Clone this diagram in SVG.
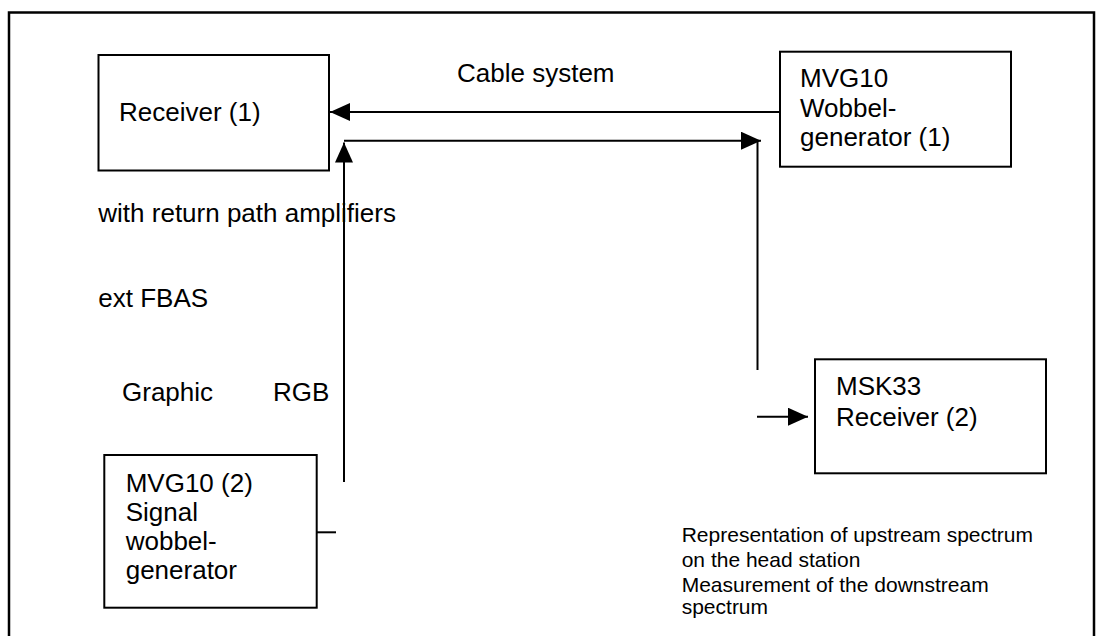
<svg xmlns="http://www.w3.org/2000/svg" width="1096" height="636" viewBox="0 0 1096 636">
<style>
  .box { fill: #ffffff; stroke: #000000; stroke-width: 2; }
  .ln { fill: none; stroke: #000000; stroke-width: 2; }
  .t { font-family: "Liberation Sans", Arial, sans-serif; font-size: 26px; fill: #000000; }
  .s { font-family: "Liberation Sans", Arial, sans-serif; font-size: 21px; fill: #000000; }
</style>
<defs>
  <marker id="arr" markerUnits="userSpaceOnUse" markerWidth="20" markerHeight="18" refX="20" refY="9" orient="auto">
    <path d="M0,0 L20,9 L0,18 z" fill="#000000"/>
  </marker>
</defs>
<rect x="0" y="0" width="1096" height="636" fill="#ffffff"/>
<path d="M9,636 V12.5 H1094 V636" fill="none" stroke="#000000" stroke-width="2.5"/>

<g id="connectors">
  <path class="ln" d="M780,112 H330" marker-end="url(#arr)"/>
  <path class="ln" d="M344,482 V142.5" marker-end="url(#arr)"/>
  <path class="ln" d="M344,140.7 H761" marker-end="url(#arr)"/>
  <path class="ln" d="M757.5,140 V370"/>
  <path class="ln" d="M757,416.7 H808" marker-end="url(#arr)"/>
  <path class="ln" d="M317,532.3 H336"/>
</g>

<g id="receiver1">
  <rect class="box" x="98.5" y="55" width="230.5" height="115.5"/>
  <text class="t" x="119" y="121">Receiver (1)</text>
</g>

<g id="mvg10-1">
  <rect class="box" x="780" y="51.7" width="231" height="115"/>
  <text class="t" x="800" y="87.3">MVG10</text>
  <text class="t" x="800" y="116.7">Wobbel-</text>
  <text class="t" x="800" y="146">generator (1)</text>
</g>

<g id="msk33">
  <rect class="box" x="815" y="359.3" width="231" height="114"/>
  <text class="t" x="836" y="395">MSK33</text>
  <text class="t" x="836" y="426">Receiver (2)</text>
</g>

<g id="mvg10-2">
  <rect class="box" x="104.3" y="455" width="212.4" height="152.7"/>
  <text class="t" x="125.7" y="491.7">MVG10 (2)</text>
  <text class="t" x="125.7" y="521">Signal</text>
  <text class="t" x="125.7" y="550">wobbel-</text>
  <text class="t" x="125.7" y="578.5">generator</text>
</g>

<g id="labels">
  <text class="t" x="457" y="82.3">Cable system</text>
  <text class="t" x="98.3" y="221.5">with return path amplifiers</text>
  <text class="t" x="98.3" y="307">ext FBAS</text>
  <text class="t" x="122" y="401">Graphic</text>
  <text class="t" x="273" y="401">RGB</text>
  <text class="s" x="681.7" y="541.7">Representation of upstream spectrum</text>
  <text class="s" x="681.7" y="566.7">on the head station</text>
  <text class="s" x="681.7" y="591.7">Measurement of the downstream</text>
  <text class="s" x="681.7" y="614">spectrum</text>
</g>
</svg>
